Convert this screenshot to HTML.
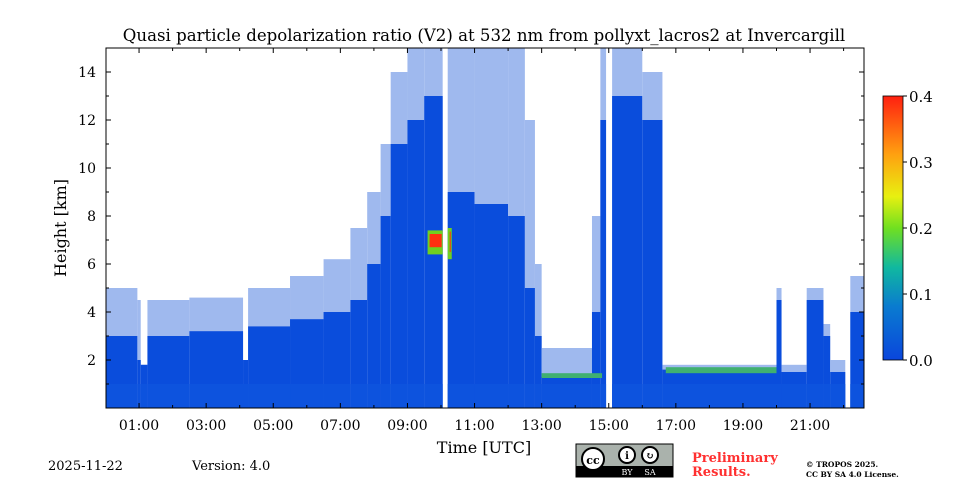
<!DOCTYPE html>
<html><head><meta charset="utf-8">
<style>
body{margin:0;background:#fff;width:960px;height:480px;overflow:hidden;font-family:"DejaVu Serif","Liberation Serif",serif;}
svg text{font-family:"DejaVu Serif","Liberation Serif",serif;}
</style></head>
<body>
<svg id="chart" width="960" height="480" viewBox="0 0 960 480" xmlns="http://www.w3.org/2000/svg">
<defs>
<linearGradient id="cbg" x1="0" y1="1" x2="0" y2="0">
<stop offset="0" stop-color="#0a46dc"/>
<stop offset="0.2" stop-color="#0a7ad0"/>
<stop offset="0.35" stop-color="#10b8a0"/>
<stop offset="0.5" stop-color="#70e020"/>
<stop offset="0.62" stop-color="#e8f010"/>
<stop offset="0.78" stop-color="#ffa010"/>
<stop offset="1" stop-color="#ff2010"/>
</linearGradient>
<clipPath id="pc"><rect x="106" y="48" width="758" height="360"/></clipPath>
</defs>
<text x="484" y="41" text-anchor="middle" font-size="16.6">Quasi particle depolarization ratio (V2) at 532 nm from pollyxt_lacros2 at Invercargill</text>
<g id="plot" clip-path="url(#pc)"></g>
<rect x="106" y="48" width="758" height="360" fill="none" stroke="#000" stroke-width="1"/>
<g id="axes"></g>
<text x="484" y="453" text-anchor="middle" font-size="16">Time [UTC]</text>
<text transform="translate(66,228) rotate(-90)" text-anchor="middle" font-size="16">Height [km]</text>
<rect x="883" y="96" width="20" height="264" fill="url(#cbg)" stroke="#000" stroke-width="0.8"/>
<g id="cbticks"></g>
<text x="48" y="470" font-size="13">2025-11-22</text>
<text x="192" y="470" font-size="13">Version: 4.0</text>
<g>
<rect x="576" y="444" width="97" height="33" fill="#aab2ac" stroke="#000" stroke-width="1"/>
<rect x="576" y="466" width="97" height="11" fill="#000"/>
<circle cx="593" cy="459" r="11" fill="#fff" stroke="#000" stroke-width="2"/>
<text x="593" y="464" text-anchor="middle" font-size="11" font-weight="bold" font-family="Liberation Sans,sans-serif">cc</text>
<circle cx="627" cy="455" r="8" fill="#fff" stroke="#000" stroke-width="2"/>
<circle cx="650" cy="455" r="8" fill="#fff" stroke="#000" stroke-width="2"/>
<text x="627" y="459" text-anchor="middle" font-size="10" font-weight="bold">i</text>
<text x="650" y="459" text-anchor="middle" font-size="10" font-weight="bold">↻</text>
<text x="627" y="475" text-anchor="middle" font-size="8" fill="#fff" font-family="Liberation Sans,sans-serif">BY</text>
<text x="650" y="475" text-anchor="middle" font-size="8" fill="#fff" font-family="Liberation Sans,sans-serif">SA</text>
</g>
<text x="692" y="462" font-size="13" font-weight="bold" fill="#ff3030">Preliminary</text>
<text x="692" y="476" font-size="13" font-weight="bold" fill="#ff3030">Results.</text>
<text x="806" y="467" font-size="7.5" font-weight="bold">© TROPOS 2025.</text>
<text x="806" y="477" font-size="7.5" font-weight="bold">CC BY SA 4.0 License.</text>
</svg>
<script>
// data arrays
const segStart = [0.0,0.95,1.05,1.25,2.5,4.1,4.25,5.5,6.5,7.3,7.8,8.2,8.5,9.0,9.5,10.05,10.2,11.0,12.0,12.5,12.8,13.0,14.5,14.75,14.92,15.1,16.0,16.6,20.0,20.15,20.9,21.4,21.6,22.05,22.2];
const denseTop = [3.0,2.0,1.8,3.0,3.2,2.0,3.4,3.7,4.0,4.5,6.0,8.0,11,12,13,0,9,8.5,8,5,3,1.3,4,12,0,13,12,1.6,4.5,1.5,4.5,3,1.5,0,4];
const sparseTop = [5.0,4.5,1.8,4.5,4.6,2.0,5.0,5.5,6.2,7.5,9.0,11,14,15,15,0,15,15,15,12,6,2.5,8,15,0,15,14,1.8,5,1.8,5,3.5,2,0,5.5];
const timeEnd = 22.6;
const aerosolStart = [13.0,16.7];
const aerosolEnd = [14.8,20.0];
const aerosolLow = [1.25,1.45];
const aerosolHigh = [1.45,1.7];
const blobStart = [9.6,10.2];
const blobEnd = [10.05,10.32];
const blobLow = [6.4,6.2];
const blobHigh = [7.4,7.5];
const xTickHours = [1,3,5,7,9,11,13,15,17,19,21];
const xTickLabels = ["01:00","03:00","05:00","07:00","09:00","11:00","13:00","15:00","17:00","19:00","21:00"];
const yTicks = [2,4,6,8,10,12,14];
const cbTicks = [0.0,0.1,0.2,0.3,0.4];

const NS="http://www.w3.org/2000/svg";
const X = h => 105.5 + h*33.55;
const Y = km => 408 - km*24;
const C = v => 360 - v/0.4*264;
function rect(parent,x1,y1,x2,y2,fill){
  const r=document.createElementNS(NS,'rect');
  r.setAttribute('x',Math.min(x1,x2));r.setAttribute('y',Math.min(y1,y2));
  r.setAttribute('width',Math.abs(x2-x1));r.setAttribute('height',Math.abs(y2-y1));
  r.setAttribute('fill',fill);parent.appendChild(r);return r;
}
const plot=document.getElementById('plot');
for(let i=0;i<segStart.length;i++){
  const t0=segStart[i], t1=i+1<segStart.length?segStart[i+1]:timeEnd;
  if(sparseTop[i]>0){
    const s=rect(plot,X(t0),Y(0),X(t1),Y(sparseTop[i]),'#9fb9ee');
    
    
  }
  if(denseTop[i]>0){
    const d=rect(plot,X(t0),Y(0),X(t1),Y(denseTop[i]),'#0a4ddc');
    
    
    const g=rect(plot,X(t0),Y(0),X(t1),Y(Math.min(1.0,denseTop[i])),'#0d53de');
    
    
  }
}
for(let i=0;i<aerosolStart.length;i++){
  const a=rect(plot,X(aerosolStart[i]),Y(aerosolLow[i]),X(aerosolEnd[i]),Y(aerosolHigh[i]),'#40b070');
  
  
}
for(let i=0;i<blobStart.length;i++){
  const b=rect(plot,X(blobStart[i]),Y(blobLow[i]),X(blobEnd[i]),Y(blobHigh[i]),'#70d020');
  
  
  const b2=rect(plot,X(blobStart[i])+2,Y(blobLow[i]+0.3),X(blobEnd[i])-1,Y(blobHigh[i]-0.15),'#ff3010');
  
  
}
const axes=document.getElementById('axes');
function line(x1,y1,x2,y2){const l=document.createElementNS(NS,'line');
  l.setAttribute('x1',x1);l.setAttribute('y1',y1);l.setAttribute('x2',x2);l.setAttribute('y2',y2);
  l.setAttribute('stroke','#000');l.setAttribute('stroke-width','1');axes.appendChild(l);return l;}
function text(x,y,s,anchor,size,parent){const t=document.createElementNS(NS,'text');
  t.setAttribute('x',x);t.setAttribute('y',y);t.setAttribute('text-anchor',anchor);t.setAttribute('font-size',size);
  t.textContent=s;(parent||axes).appendChild(t);return t;}
for(let h=1;h<=22;h++){
  const major=h%2===1, len=major?5:3;
  line(X(h),408,X(h),408-len);line(X(h),48,X(h),48+len);
}
xTickHours.forEach((h,i)=>{
  const t=text(X(h),430,xTickLabels[i],'middle',14);
  
  
});
for(let k=1;k<=15;k++){
  const len=k%2===0?5:3;
  line(106,Y(k),106+len,Y(k));line(864,Y(k),864-len,Y(k));
}
yTicks.forEach(k=>{
  const t=text(96,Y(k)+5,String(k),'end',14);
  
  
});
const cbg=document.getElementById('cbticks');
cbTicks.forEach(v=>{
  const l=document.createElementNS(NS,'line');
  l.setAttribute('x1',903);l.setAttribute('x2',907);l.setAttribute('y1',C(v));l.setAttribute('y2',C(v));
  l.setAttribute('stroke','#000');cbg.appendChild(l);
  const t=text(909,C(v)+6,v.toFixed(1),'start',15,cbg);
  
  
});
</script>
</body></html>
